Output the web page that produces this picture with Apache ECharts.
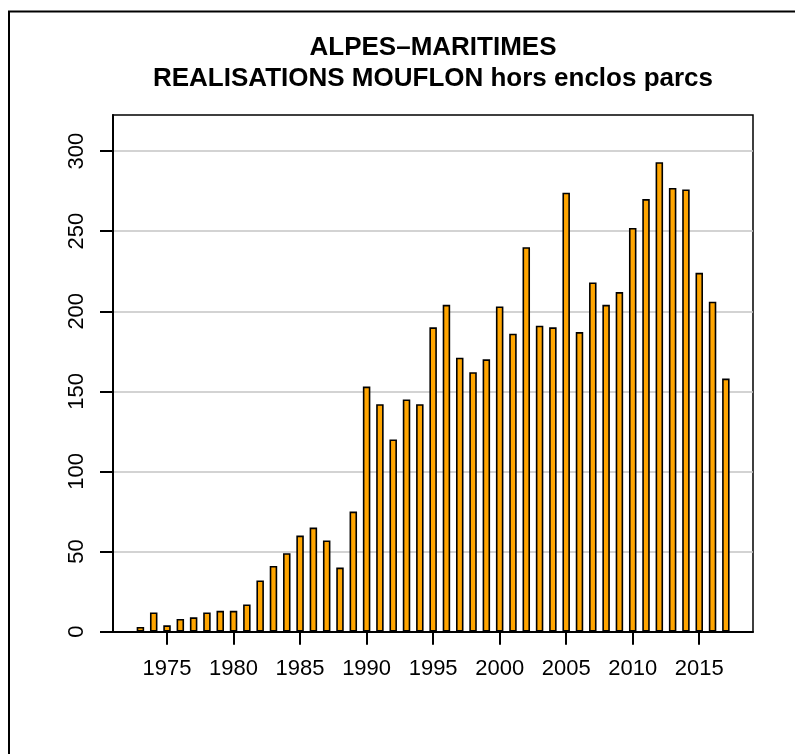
<!DOCTYPE html>
<html>
<head>
<meta charset="utf-8">
<script src="https://cdn.jsdelivr.net/npm/echarts@6/dist/echarts.min.js"></script>
<style>
html,body{margin:0;padding:0;background:#fff;}
#chart{width:795px;height:754px;}
</style>
</head>
<body>
<div id="chart"></div>
<script>
var years = [1973,1974,1975,1976,1977,1978,1979,1980,1981,1982,1983,1984,1985,1986,1987,1988,1989,1990,1991,1992,1993,1994,1995,1996,1997,1998,1999,2000,2001,2002,2003,2004,2005,2006,2007,2008,2009,2010,2011,2012,2013,2014,2015,2016,2017];
var values = [3,12,4,8,9,12,13,13,17,32,41,49,60,65,57,40,75,153,142,120,145,142,190,204,171,162,170,203,186,240,191,190,274,187,218,204,212,252,270,293,277,276,224,206,158];
var xTicks = [1975,1980,1985,1990,1995,2000,2005,2010,2015];
var yTicks = [0,50,100,150,200,250,300];
var titleLines = ['ALPES\u2013MARITIMES','REALISATIONS MOUFLON hors enclos parcs'];

var FONT = "'Liberation Sans', Arial, Helvetica, sans-serif";
var chart = echarts.init(document.getElementById('chart'), null, {renderer:'canvas'});
var data = years.map(function(y,i){return [y, values[i]];});

chart.setOption({
  animation:false,
  backgroundColor:'#ffffff',
  graphic:[
    {type:'rect', shape:{x:9,y:11.5,width:820,height:820}, style:{fill:'none', stroke:'#000', lineWidth:2}, silent:true},
    {type:'text', x:433, y:48, style:{text:titleLines[0], font:'bold 26px '+FONT, fill:'#000', textAlign:'center', textVerticalAlign:'middle'}},
    {type:'text', x:433, y:79, style:{text:titleLines[1], font:'bold 26px '+FONT, fill:'#000', textAlign:'center', textVerticalAlign:'middle'}}
  ],
  grid:{left:113, right:42, top:115, bottom:122.3, show:true, borderColor:'#000', borderWidth:1.5, backgroundColor:'transparent'},
  xAxis:{
    type:'value', min:1970.94, max:2019.04,
    axisLine:{show:true, onZero:false, lineStyle:{color:'#000', width:2}},
    axisTick:{show:true, length:13, customValues:xTicks, lineStyle:{color:'#000', width:2}},
    axisLabel:{show:true, customValues:xTicks, margin:26, color:'#000', fontSize:22, fontFamily:FONT,
      formatter:function(v){return String(v);}},
    splitLine:{show:false}
  },
  yAxis:{
    type:'value', min:0, max:322.5, interval:50,
    axisLine:{show:true, lineStyle:{color:'#000', width:2}},
    axisTick:{show:true, length:13, customValues:yTicks, lineStyle:{color:'#000', width:2}},
    axisLabel:{show:true, customValues:yTicks, rotate:90, margin:25, color:'#000', fontSize:22, fontFamily:FONT,
      formatter:function(v){return String(v);}},
    splitLine:{show:true, lineStyle:{color:'#c4c4c4', width:1.5}}
  },
  series:[{
    type:'bar', data:data, barWidth:7.5,
    itemStyle:{color:'#FFA500', borderColor:'#000', borderWidth:1.6},
    silent:true
  }]
});
</script>
</body>
</html>
